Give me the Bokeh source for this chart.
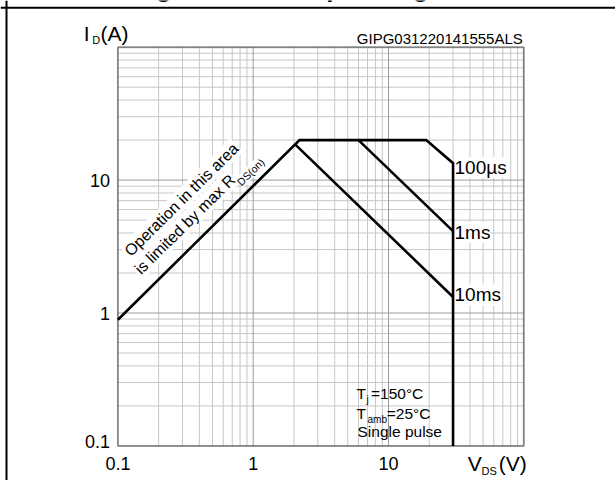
import math
from bokeh.plotting import figure
from bokeh.models import ColumnDataSource, Label, BoxAnnotation, Span, Range1d
from bokeh.core.properties import value
from bokeh.embed import file_html
from bokeh.resources import INLINE

# ---------------- data ----------------
# R_DS(on)-limited line + 100 us pulse envelope + DC (30 V) limit
limit_v = [0.1, 2.2, 19.0, 30.0, 30.0]
limit_i = [0.89, 20.0, 20.0, 13.4, 0.1]
# 1 ms pulse
ms1_v = [6.0, 30.0]
ms1_i = [20.0, 4.13]
# 10 ms pulse
ms10_v = [2.05, 30.0]
ms10_i = [18.5, 1.32]

curve_names = ["100µs", "1ms", "10ms"]
curve_end_v = [30.0, 30.0, 30.0]
curve_end_i = [13.4, 4.13, 1.32]

x_ticks = [0.1, 1, 10]
x_tick_labels = ["0.1", "1", "10"]
y_ticks = [0.1, 1, 10]
y_tick_labels = ["0.1", "1", "10"]
grid_major = [0.1, 1, 10, 100]
grid_minor = [m * d for d in (0.1, 1, 10) for m in range(2, 10)]
v_min, v_max = 0.1, 100.0
i_min, i_max = 0.1, 100.0

FONT = "Liberation Sans"

# ---------------- layout: the chart box inside the canvas ----------------
W, H = 615, 480
BOX_L, BOX_R, BOX_T, BOX_B = 117.4, 523.3, 46.7, 445.4   # pixel edges of the grid box
dec_x = (BOX_R - BOX_L) / math.log10(v_max / v_min)
dec_y = (BOX_B - BOX_T) / math.log10(i_max / i_min)
x0 = v_min * 10 ** (-BOX_L / dec_x)
x1 = v_max * 10 ** ((W - BOX_R) / dec_x)
y0 = i_min * 10 ** (-(H - BOX_B) / dec_y)
y1 = i_max * 10 ** (BOX_T / dec_y)

p = figure(width=W, height=H, x_axis_type="log", y_axis_type="log",
           x_range=Range1d(x0, x1), y_range=Range1d(y0, y1),
           x_axis_location=None, y_axis_location=None,
           output_backend="svg", toolbar_location=None, min_border=0)
p.background_fill_color = "white"
p.border_fill_color = "white"
p.outline_line_color = None
p.grid.visible = False

# ---------------- grid of the chart box ----------------
nm, nM = len(grid_minor), len(grid_major)
p.segment(x0=grid_minor, x1=grid_minor, y0=[i_min] * nm, y1=[i_max] * nm,
          line_color="#c6c6c6", line_width=1)
p.segment(x0=[v_min] * nm, x1=[v_max] * nm, y0=grid_minor, y1=grid_minor,
          line_color="#c6c6c6", line_width=1)
p.segment(x0=grid_major, x1=grid_major, y0=[i_min] * nM, y1=[i_max] * nM,
          line_color="#9c9c9c", line_width=1)
p.segment(x0=[v_min] * nM, x1=[v_max] * nM, y0=grid_major, y1=grid_major,
          line_color="#9c9c9c", line_width=1)

# white box behind the conditions text
p.add_layout(BoxAnnotation(left=5.45, right=29.0, bottom=0.101, top=0.305, level="underlay",
                           fill_color="white", fill_alpha=1.0, line_color=None))

# ---------------- curve labels (white background), then curves ----------------
src = ColumnDataSource(dict(v=curve_end_v, i=curve_end_i, name=curve_names, dy=[4, 1, -2]))
p.text(x="v", y="i", text="name", source=src, x_offset=1.5, y_offset="dy",
       text_font=value(FONT), text_font_size="19px", text_baseline="middle",
       text_align="left", text_color="black",
       background_fill_color="white", padding=0)

for xs, ys in ((limit_v, limit_i), (ms1_v, ms1_i), (ms10_v, ms10_i)):
    p.line(xs, ys, line_color="black", line_width=2.6, line_join="miter")

# chart box outline
p.add_layout(BoxAnnotation(left=v_min, right=v_max, bottom=i_min, top=i_max,
                           fill_alpha=0, line_color="black", line_width=2))

# outer figure frame (left and top edges)
p.add_layout(Span(location=x0 * 10 ** (6.0 / dec_x), dimension="height",
                  line_color="black", line_width=2))
p.add_layout(Span(location=y1 * 10 ** (-7.3 / dec_y), dimension="width",
                  line_color="black", line_width=2))

# ---------------- tick labels ----------------
p.text(x=x_ticks, y=[i_min] * len(x_ticks), text=x_tick_labels, y_offset=17.5,
       text_font=value(FONT), text_font_size="18px", text_align="center",
       text_baseline="middle", text_color="black")
p.text(x=[v_min] * len(y_ticks), y=y_ticks, text=y_tick_labels, x_offset=-8,
       y_offset=[-4, 0, 0],
       text_font=value(FONT), text_font_size="18px", text_align="right",
       text_baseline="middle", text_color="black")

# ---------------- annotations ----------------
def lab(x, y, text, dx, dy, size, align="left", angle=0.0, bg=False, pad=1,
        style="normal"):
    l = Label(x=x, y=y, x_offset=dx, y_offset=dy, text=text, text_font=FONT,
              text_font_size=f"{size}px", text_align=align, text_baseline="middle",
              angle=angle, text_color="black", text_font_style=style)
    if bg:
        l.background_fill_color = "white"
        l.padding = pad
    p.add_layout(l)

# caption of the figure (cut by the top edge, as in the reference)
lab(math.sqrt(x0 * x1), y1, "Figure 2. Safe operating area", 3, 12.8, 26,
    align="center", style="bold")

cx, cy = 5.8, i_min
lab(cx, cy, "T", 0, 52.5, 15.5)
lab(cx, cy, "j", 10, 46.1, 10)
lab(cx, cy, "=150°C", 14.5, 52.5, 15.5)
lab(cx, cy, "T", 0, 32.5, 15.5)
lab(cx, cy, "amb", 11, 26.1, 10)
lab(cx, cy, "=25°C", 30.3, 32.5, 15.5)
lab(cx, cy, "Single pulse", 1, 14.9, 15.5)

# rotated R_DS(on) text, parallel to the limit line
dx_pix = math.log10(limit_v[1] / limit_v[0]) * dec_x
dy_pix = math.log10(limit_i[1] / limit_i[0]) * dec_y
ang = math.atan2(dy_pix, dx_pix)
mid_v = math.sqrt(limit_v[0] * limit_v[1])
mid_i = math.sqrt(limit_i[0] * limit_i[1])
ca, sa = math.cos(ang), math.sin(ang)

def rot(text, along, perp, size, align="left", pad=1):
    lab(mid_v, mid_i, text, along * ca - perp * sa, along * sa + perp * ca,
        size, align=align, angle=ang, bg=True, pad=pad)

rot("Operation in this area", 2, 40.7, 16, align="center")
rot("is limited by max R", -81, 20.7, 16)
rot("DS(on)", 54, 11.8, 10.5, pad=0)

# axis titles
lab(v_min, i_max, "I", -34.1, 14.2, 21)
lab(v_min, i_max, "D", -25.7, 7.3, 11)
lab(v_min, i_max, "(A)", -17.4, 14.2, 21)
lab(v_max, i_max, "GIPG031220141555ALS", -1, 8.8, 15, align="right")
lab(v_max, i_min, "V", -56, -17.1, 21)
lab(v_max, i_min, "DS", -42.3, -25.0, 11)
lab(v_max, i_min, "(V)", -25, -17.1, 21)

open("out.html", "w").write(file_html(p, INLINE))
